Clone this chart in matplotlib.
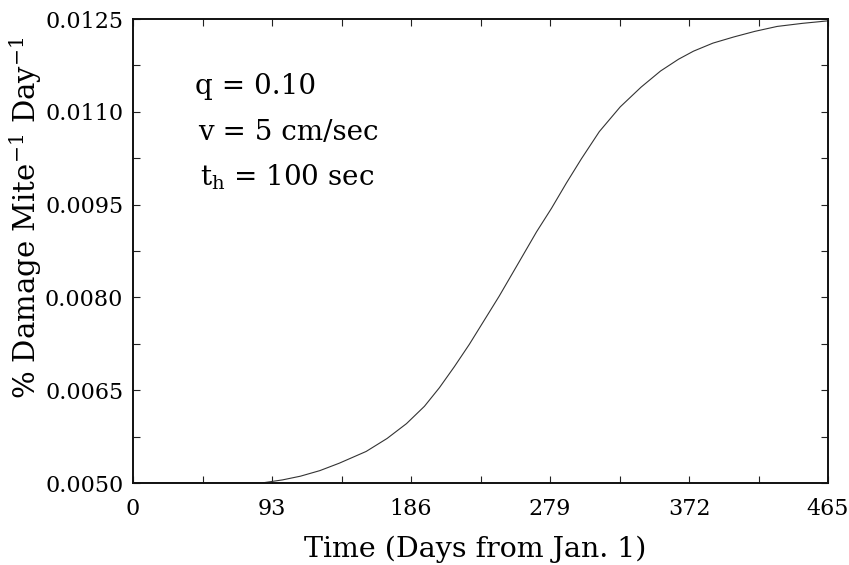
import matplotlib
matplotlib.use("Agg")
import matplotlib.pyplot as plt

plt.rcParams['font.family'] = ['DejaVu Serif']
plt.rcParams['mathtext.fontset'] = 'dejavuserif'

# data
days = [0, 86, 100, 112, 125, 138, 156, 170, 183, 195, 205, 215, 225, 235, 245,
        258, 270, 280, 290, 300, 312, 326, 340, 353, 365, 375, 388, 402, 416,
        431, 448, 465]
damage = [0.00500, 0.00500, 0.00505, 0.00511, 0.00520, 0.00532, 0.00551, 0.00572,
          0.00596, 0.00624, 0.00654, 0.00688, 0.00724, 0.00763, 0.00802, 0.00856,
          0.00906, 0.00944, 0.00985, 0.01024, 0.01068, 0.01108, 0.01140, 0.01166,
          0.01185, 0.01198, 0.01211, 0.01221, 0.01230, 0.01238, 0.01243, 0.01247]

x_ticks = [0, 93, 186, 279, 372, 465]
x_minor = [46.5, 139.5, 232.5, 325.5, 418.5]
y_ticks = [0.0050, 0.0065, 0.0080, 0.0095, 0.0110, 0.0125]
y_minor = [0.00575, 0.00725, 0.00875, 0.01025, 0.01175]
y_tick_labels = ["0.0050", "0.0065", "0.0080", "0.0095", "0.0110", "0.0125"]

fig = plt.figure(figsize=(8.49, 5.65), dpi=100)
ax = fig.add_axes([133/849, 82/565, 695/849, 464/565])

ax.plot(days, damage, color='#333333', lw=0.8)

ax.set_xlim(0, 465)
ax.set_ylim(0.0050, 0.0125)
ax.set_xticks(x_ticks)
ax.set_xticks(x_minor, minor=True)
ax.set_yticks(y_ticks)
ax.set_yticks(y_minor, minor=True)
ax.set_yticklabels(y_tick_labels)

ax.tick_params(axis='both', which='both', direction='in', top=True, right=True,
               length=5, width=0.8, color='#222222')
ax.tick_params(axis='x', which='major', labelsize=16, pad=11)
ax.tick_params(axis='y', which='major', labelsize=16, pad=7)
for s in ax.spines.values():
    s.set_linewidth(1.4)
    s.set_color('#111111')

fig.text(475/849, 1 - 549/565, "Time (Days from Jan. 1)", fontsize=20.5,
         ha='center', va='center')
fig.text(26/849, 1 - 218/565, r"% Damage Mite$^{-1}$ Day$^{-1}$", fontsize=21,
         rotation=90, ha='center', va='center')

ax.text(0.089, 0.838, "q = 0.10", transform=ax.transAxes, fontsize=20, va='baseline', ha='left')
ax.text(0.093, 0.739, "v = 5 cm/sec", transform=ax.transAxes, fontsize=20, va='baseline', ha='left')
ax.text(0.096, 0.642, r"t$_\mathrm{h}$ = 100 sec", transform=ax.transAxes, fontsize=20, va='baseline', ha='left')

fig.savefig("out.png", dpi=100)
